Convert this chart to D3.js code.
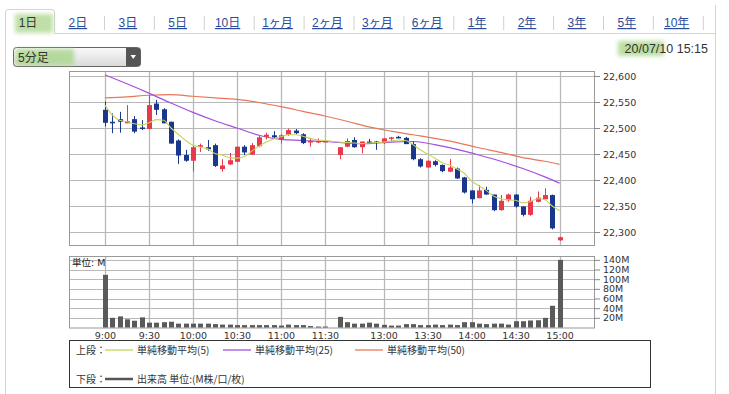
<!DOCTYPE html>
<html>
<head>
<meta charset="utf-8">
<script src="https://cdn.jsdelivr.net/npm/d3@7"></script>
<style>
  body { margin: 0; background: #fff; }
  svg { display: block; }
  .axis text { font-family: "DejaVu Sans", sans-serif; font-size: 9.5px; fill: #333; }
  .axis path { display: none; }
  .axis line { stroke: #888; }
</style>
</head>
<body>
<script>
// 5 minute bars, one slot per bar (slot 31 is the lunch gap)
const times = ["9:00","9:05","9:10","9:15","9:20","9:25","9:30","9:35","9:40","9:45","9:50","9:55",
  "10:00","10:05","10:10","10:15","10:20","10:25","10:30","10:35","10:40","10:45","10:50","10:55",
  "11:00","11:05","11:10","11:15","11:20","11:25","11:30","",
  "12:30","12:35","12:40","12:45","12:50","12:55","13:00","13:05","13:10","13:15","13:20","13:25",
  "13:30","13:35","13:40","13:45","13:50","13:55","14:00","14:05","14:10","14:15","14:20","14:25",
  "14:30","14:35","14:40","14:45","14:50","14:55","15:00"];

const open  = [22535,22512,22517,22509,22517,22501,22498,22547,22536,22512,22476,22448,
  22437,22464,22463,22467,22421,22430,22435,22464,22449,22465,22483,22486,
  22478,22487,22495,22488,22472,22473,22474,null,
  22448,22464,22477,22463,22474,22474,22471,22480,22483,22481,22469,22440,
  22424,22436,22429,22416,22422,22405,22380,22365,22381,22372,22342,22361,
  22372,22349,22333,22358,22363,22371,22284];
const high  = [22551,22528,22531,22544,22523,22515,22563,22554,22538,22512,22478,22458,
  22467,22470,22477,22470,22440,22452,22465,22467,22471,22486,22491,22494,
  22488,22499,22498,22490,22480,22480,22476,null,
  22463,22480,22482,22474,22479,22475,22481,22483,22485,22483,22474,22442,
  22438,22438,22430,22440,22424,22406,22380,22390,22387,22372,22371,22374,
  22373,22350,22368,22378,22384,22372,22291];
const low   = [22503,22490,22491,22509,22490,22496,22498,22525,22509,22470,22431,22435,
  22416,22454,22456,22425,22416,22429,22434,22448,22448,22463,22478,22480,
  22470,22485,22488,22469,22464,22471,22473,null,
  22440,22463,22462,22451,22471,22458,22469,22474,22480,22469,22438,22424,
  22424,22426,22415,22415,22402,22374,22355,22365,22372,22340,22341,22358,
  22347,22330,22331,22357,22363,22305,22283];
const close = [22510,22509,22512,22513,22493,22498,22544,22535,22509,22470,22447,22437,
  22463,22467,22459,22427,22428,22438,22464,22453,22467,22482,22487,22482,
  22486,22496,22490,22471,22475,22475,22475,null,
  22463,22475,22463,22474,22471,22472,22480,22482,22480,22469,22440,22426,
  22437,22429,22417,22424,22403,22376,22363,22380,22372,22342,22360,22372,
  22349,22333,22360,22366,22371,22307,22290];

// volume, million shares
const volume = [109,20,23,17,14,21,10,10,11,12,8,8,
  8,8,8,7,6,6,5,5,5,5,5,5,
  4,6,5,5,3,2,2,null,
  22,11,8,8,10,8,5.5,4,4,7,7,5,
  5,6,5,6,5,11,11,8,7,8,8,6,
  13,13,14.5,15,20,45,140];

// moving averages
const ma5 = [22544,22525,22515,22512,22508,22506,22510,22516,22515,22500,22488,22476,
  22467,22463,22460,22451,22448,22443,22442,22445,22455,22465,22473,22479,
  22483,22487,22487,22484,22480,22477,22476,null,
  22473,22472,22471,22470,22471,22472,22473,22475,22477,22476,22468,22458,
  22450,22442,22433,22429,22421,22413,22398,22389,22380,22369,22364,22362,
  22361,22356,22358,22364,22362,22350,22341];
const maSlots = [0,3,6,9,12,15,18,21,24,27,30,33,36,39,42,45,48,51,54,57,60,62];
const ma25 = [22602,22585,22567,22548,22530,22514,22500,22486,22478,22476,22474,22471,
  22470,22473,22474,22468,22459,22448,22436,22422,22406,22394];
const ma50 = [22558,22560,22563,22564,22561,22558,22555,22549,22541,22532,22523,22513,
  22502,22494,22487,22480,22472,22462,22453,22443,22436,22430];

const xTicks = ["9:00","9:30","10:00","10:30","11:00","11:30","13:00","13:30","14:00","14:30","15:00"];
const priceTicks = [22300,22350,22400,22450,22500,22550,22600];
const volTicks = [20,40,60,80,100,120,140];
const tabs = ["1日","2日","3日","5日","10日","1ヶ月","2ヶ月","3ヶ月","6ヶ月","1年","2年","3年","5年","10年"];

const W = 729, H = 394;
const left = 69, right = 594;
const pTop = 71, pBottom = 245;
const vTop = 256, vBottom = 327.5;

const svg = d3.select("body").append("svg").attr("width", W).attr("height", H);
const defs = svg.append("defs");
defs.append("filter").attr("id", "soft").attr("x", "-30%").attr("y", "-50%").attr("width", "160%").attr("height", "200%")
  .append("feGaussianBlur").attr("stdDeviation", 2.2);
const grad = defs.append("linearGradient").attr("id", "sel").attr("x1", 0).attr("y1", 0).attr("x2", 0).attr("y2", 1);
grad.append("stop").attr("offset", "0%").attr("stop-color", "#fafafa");
grad.append("stop").attr("offset", "100%").attr("stop-color", "#d9d9d9");

// ---- frame and tabs
svg.append("path")
  .attr("d", "M5.5,394 V12 Q5.5,9.5 8,9.5 H52 Q54.5,9.5 54.5,12 V33.5 H715.5 M715.5,5 V394")
  .attr("fill", "none").attr("stroke", "#d4d4d4");

svg.append("rect").attr("x", 15).attr("y", 14).attr("width", 38).attr("height", 19)
  .attr("fill", "#a9d68a").attr("opacity", 0.75).attr("filter", "url(#soft)");

const tabG = svg.append("g").style("font-family", "'Liberation Sans','Noto Sans CJK JP',sans-serif").style("font-size", "12px");
tabG.selectAll("text").data(tabs).enter().append("text")
  .attr("x", (d, i) => 28 + i * 49.9)
  .attr("y", 27)
  .attr("text-anchor", "middle")
  .attr("fill", (d, i) => i === 0 ? "#333" : "#2b4c9b")
  .style("text-decoration", (d, i) => i === 0 ? "none" : "underline")
  .text(d => d);
tabG.selectAll("line").data(d3.range(13)).enter().append("line")
  .attr("x1", i => 104.5 + i * 49.9).attr("x2", i => 104.5 + i * 49.9)
  .attr("y1", 16).attr("y2", 30).attr("stroke", "#d0d0d0");

// dropdown
svg.append("rect").attr("x", 13.5).attr("y", 47.5).attr("width", 127).attr("height", 19).attr("rx", 3)
  .attr("fill", "url(#sel)").attr("stroke", "#666");
svg.append("rect").attr("x", 16).attr("y", 49).attr("width", 58).attr("height", 16)
  .attr("fill", "#a9d68a").attr("opacity", 0.8).attr("filter", "url(#soft)");
svg.append("path").attr("d", "M126,48 H138 Q140.5,48 140.5,50.5 V63.5 Q140.5,66 138,66 H126 Z").attr("fill", "#555");
svg.append("path").attr("d", "M130.5,55 L136,55 L133.25,59 Z").attr("fill", "#fff");
svg.append("text").attr("x", 18).attr("y", 61.5)
  .style("font-family", "'Liberation Sans','Noto Sans CJK JP',sans-serif").style("font-size", "12px")
  .attr("fill", "#333").text("5分足");

// date stamp
svg.append("rect").attr("x", 618).attr("y", 41).attr("width", 46).attr("height", 15)
  .attr("fill", "#a9d68a").attr("opacity", 0.8).attr("filter", "url(#soft)");
svg.append("text").attr("x", 708).attr("y", 53).attr("text-anchor", "end")
  .style("font-family", "'Liberation Sans',sans-serif").style("font-size", "12.5px")
  .attr("fill", "#333").text("20/07/10 15:15");

// ---- scales
const x = d3.scaleLinear().domain([-4.9, 66.7]).range([left, right]);
const y = d3.scaleLinear().domain([22275, 22609.6]).range([pBottom, pTop]);
const yv = d3.scaleLinear().domain([0, 148]).range([vBottom, vTop]);
const tickSlots = xTicks.map(t => times.indexOf(t));

// ---- price panel
const pg = svg.append("g");
pg.selectAll(".hg").data(priceTicks).enter().append("line")
  .attr("x1", left).attr("x2", right)
  .attr("y1", d => Math.round(y(d)) + 0.5).attr("y2", d => Math.round(y(d)) + 0.5)
  .attr("stroke", "#b8b8b8");
pg.selectAll(".vg").data(tickSlots).enter().append("line")
  .attr("x1", d => Math.round(x(d)) + 0.5).attr("x2", d => Math.round(x(d)) + 0.5)
  .attr("y1", pTop).attr("y2", pBottom)
  .attr("stroke", "#b8b8b8").attr("stroke-width", 1.3);
pg.append("rect").attr("x", left + 0.5).attr("y", pTop + 0.5)
  .attr("width", right - left).attr("height", pBottom - pTop)
  .attr("fill", "none").attr("stroke", "#999");

svg.append("g").attr("class", "axis").attr("transform", `translate(${right},0)`)
  .call(d3.axisRight(y).tickValues(priceTicks).tickFormat(d3.format(",")).tickSize(6).tickPadding(3));

// moving averages
const lineFull = d3.line().x(d => x(d[0])).y(d => y(d[1])).curve(d3.curveMonotoneX);
const ma5pts = ma5.map((v, i) => [i, v]).filter(d => d[1] != null);
pg.append("path").attr("d", lineFull(ma50.map((v, i) => [maSlots[i], v])))
  .attr("fill", "none").attr("stroke", "#e8775a").attr("stroke-width", 1.2);
pg.append("path").attr("d", lineFull(ma25.map((v, i) => [maSlots[i], v])))
  .attr("fill", "none").attr("stroke", "#a24fe0").attr("stroke-width", 1.2);

// candles
const bars = times.map((t, i) => ({ i, o: open[i], h: high[i], l: low[i], c: close[i] })).filter(d => d.o != null);
const colUp = "#e8394c", colDn = "#1a378e";
const cg = pg.selectAll(".candle").data(bars).enter().append("g");
cg.append("line")
  .attr("x1", d => Math.round(x(d.i)) + 0.5).attr("x2", d => Math.round(x(d.i)) + 0.5)
  .attr("y1", d => y(d.h)).attr("y2", d => y(d.l))
  .attr("stroke", d => d.c >= d.o ? colUp : colDn);
cg.append("rect")
  .attr("x", d => Math.round(x(d.i)) - 2)
  .attr("y", d => y(Math.max(d.o, d.c)))
  .attr("width", 5)
  .attr("height", d => Math.max(1.5, Math.abs(y(d.o) - y(d.c))))
  .attr("fill", d => d.c >= d.o ? colUp : colDn);

pg.append("path").attr("d", lineFull(ma5pts))
  .attr("fill", "none").attr("stroke", "#c6d45a").attr("stroke-width", 1.1);

// ---- volume panel
const vg = svg.append("g");
vg.selectAll(".hg").data(volTicks).enter().append("line")
  .attr("x1", left).attr("x2", right)
  .attr("y1", d => Math.round(yv(d)) + 0.5).attr("y2", d => Math.round(yv(d)) + 0.5)
  .attr("stroke", "#b8b8b8");
vg.selectAll(".vg").data(tickSlots).enter().append("line")
  .attr("x1", d => Math.round(x(d)) + 0.5).attr("x2", d => Math.round(x(d)) + 0.5)
  .attr("y1", vTop).attr("y2", vBottom)
  .attr("stroke", "#b8b8b8").attr("stroke-width", 1.3);
vg.append("rect").attr("x", left + 0.5).attr("y", vTop + 0.5)
  .attr("width", right - left).attr("height", vBottom - vTop)
  .attr("fill", "none").attr("stroke", "#999");

vg.selectAll(".vol").data(volume.map((v, i) => ({ i, v })).filter(d => d.v != null)).enter().append("rect")
  .attr("x", d => Math.round(x(d.i)) - 2)
  .attr("y", d => yv(d.v))
  .attr("width", 5)
  .attr("height", d => vBottom - yv(d.v))
  .attr("fill", "#5a5a5a");

svg.append("g").attr("class", "axis").attr("transform", `translate(${right},0)`)
  .call(d3.axisRight(yv).tickValues(volTicks).tickFormat(d => d + "M").tickSize(6).tickPadding(3));

svg.append("g").attr("class", "axis").attr("transform", `translate(0,${vBottom})`)
  .call(d3.axisBottom(x).tickValues(tickSlots).tickFormat(d => times[d]).tickSize(0).tickPadding(5));

svg.append("text").attr("x", 72).attr("y", 266)
  .style("font-family", "'DejaVu Sans','Noto Sans CJK JP',sans-serif").style("font-size", "9.5px")
  .attr("fill", "#222").text("単位: M");

// ---- legend
const lg = svg.append("g")
  .style("font-family", "'Noto Sans CJK JP',sans-serif").style("font-size", "10px").attr("fill", "#333");
lg.append("rect").attr("x", 69.5).attr("y", 340.5).attr("width", 581).attr("height", 47)
  .attr("fill", "#fff").attr("stroke", "#333");
lg.append("text").attr("x", 76).attr("y", 354).text("上段：");
lg.append("text").attr("x", 76).attr("y", 383).text("下段：");
const legendItems = [
  { x: 105, label: "単純移動平均(5)", color: "#c6d45a" },
  { x: 223, label: "単純移動平均(25)", color: "#a24fe0" },
  { x: 355, label: "単純移動平均(50)", color: "#e8775a" }
];
legendItems.forEach(d => {
  lg.append("line").attr("x1", d.x).attr("x2", d.x + 28).attr("y1", 350).attr("y2", 350)
    .attr("stroke", d.color).attr("stroke-width", 1.3);
  lg.append("text").attr("x", d.x + 32).attr("y", 354).text(d.label);
});
lg.append("line").attr("x1", 105).attr("x2", 133).attr("y1", 379).attr("y2", 379)
  .attr("stroke", "#555").attr("stroke-width", 2.5);
lg.append("text").attr("x", 137).attr("y", 383).text("出来高 単位:(M株/口/枚)");
</script>
</body>
</html>
